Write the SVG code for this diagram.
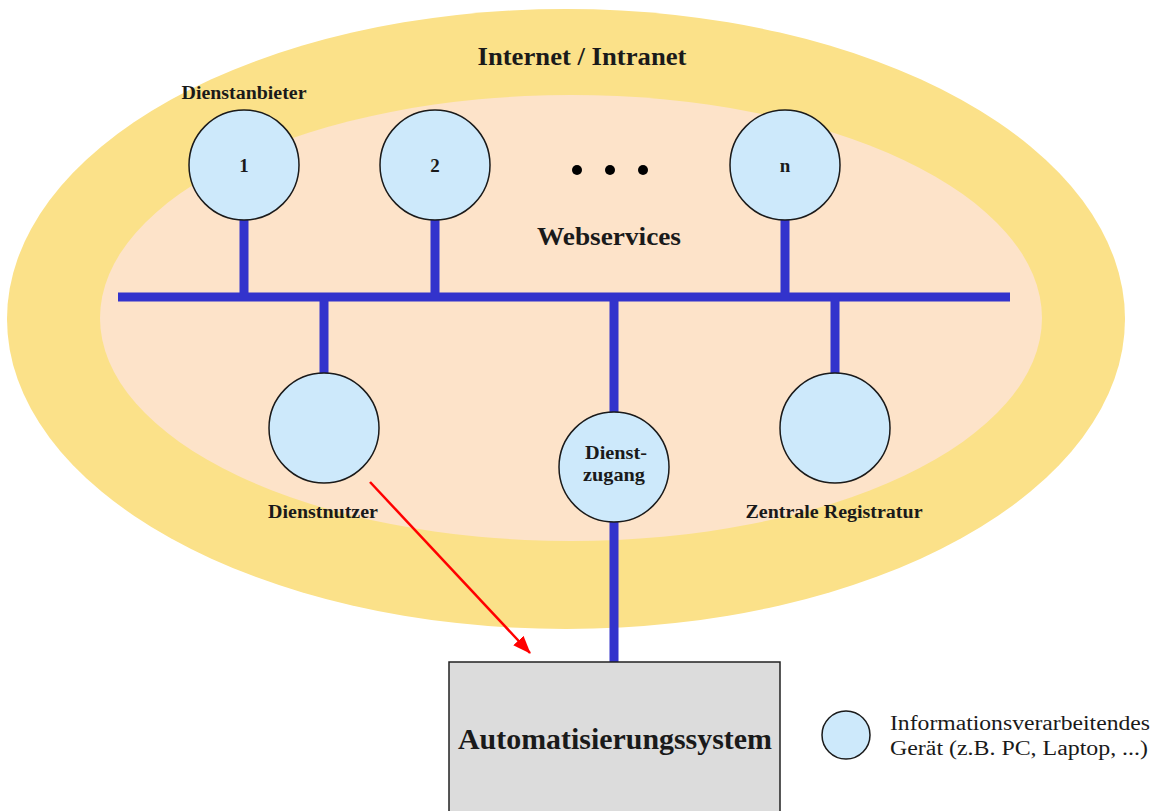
<svg xmlns="http://www.w3.org/2000/svg" width="1154" height="811" viewBox="0 0 1154 811">
<defs>
<style>
.dev{fill:#cde9fb;stroke:#1a1a1a;stroke-width:1.5}
.bus{stroke:#3333cc;stroke-width:9;fill:none}
.lbl{font-family:"Liberation Serif","Times New Roman",serif;font-weight:bold;fill:#1a1a1a;text-anchor:middle}
.leg{font-family:"Liberation Serif","Times New Roman",serif;fill:#1a1a1a;font-size:20px}
</style>
<marker id="ah" markerWidth="18" markerHeight="14" refX="17" refY="7" orient="auto" markerUnits="userSpaceOnUse" viewBox="0 0 18 14">
<path d="M0,0 L18,7 L0,14 Z" fill="#ff0000"/>
</marker>
</defs>
<rect width="1154" height="811" fill="#ffffff"/>
<g id="internet">
<ellipse cx="566" cy="319" rx="559" ry="310" fill="#fbe189"/>
<text class="lbl" x="582" y="65" font-size="25" textLength="209" lengthAdjust="spacingAndGlyphs">Internet / Intranet</text>
</g>
<g id="webservices">
<ellipse cx="571" cy="318" rx="471" ry="223" fill="#fde3c9"/>
<text class="lbl" x="609" y="245" font-size="25" textLength="144" lengthAdjust="spacingAndGlyphs">Webservices</text>
</g>
<g id="connectors">
<line class="bus" x1="118" y1="297" x2="1010" y2="297"/>
<line class="bus" x1="244" y1="218" x2="244" y2="297"/>
<line class="bus" x1="435" y1="218" x2="435" y2="297"/>
<line class="bus" x1="785" y1="218" x2="785" y2="297"/>
<line class="bus" x1="324" y1="297" x2="324" y2="375"/>
<line class="bus" x1="614" y1="297" x2="614" y2="414"/>
<line class="bus" x1="835" y1="297" x2="835" y2="375"/>
<line class="bus" x1="614" y1="520" x2="614" y2="662"/>
<line x1="370" y1="482" x2="530" y2="653" stroke="#ff0000" stroke-width="2.5" marker-end="url(#ah)"/>
</g>
<g id="anbieter1">
<circle class="dev" cx="244" cy="165" r="55"/>
<text class="lbl" x="244" y="172" font-size="19">1</text>
<text class="lbl" x="244" y="99" font-size="18" textLength="125" lengthAdjust="spacingAndGlyphs">Dienstanbieter</text>
</g>
<g id="anbieter2">
<circle class="dev" cx="435" cy="165" r="55"/>
<text class="lbl" x="435" y="172" font-size="19">2</text>
</g>
<g id="dots">
<circle cx="577" cy="170" r="5" fill="#000"/>
<circle cx="610" cy="170" r="5" fill="#000"/>
<circle cx="643" cy="170" r="5" fill="#000"/>
</g>
<g id="anbietern">
<circle class="dev" cx="785" cy="165" r="55"/>
<text class="lbl" x="785" y="172" font-size="19">n</text>
</g>
<g id="dienstnutzer">
<circle class="dev" cx="324" cy="428" r="55"/>
<text class="lbl" x="323" y="518" font-size="18" textLength="110" lengthAdjust="spacingAndGlyphs">Dienstnutzer</text>
</g>
<g id="dienstzugang">
<circle class="dev" cx="614" cy="467" r="55"/>
<text class="lbl" x="616" y="459" font-size="19" textLength="62" lengthAdjust="spacingAndGlyphs">Dienst-</text>
<text class="lbl" x="614" y="481" font-size="19" textLength="62" lengthAdjust="spacingAndGlyphs">zugang</text>
</g>
<g id="registratur">
<circle class="dev" cx="835" cy="428" r="55"/>
<text class="lbl" x="834" y="518" font-size="18" textLength="177" lengthAdjust="spacingAndGlyphs">Zentrale Registratur</text>
</g>
<g id="automatisierungssystem">
<rect x="449" y="662" width="331" height="160" fill="#dcdcdc" stroke="#222" stroke-width="1.5"/>
<text class="lbl" x="615" y="749" font-size="30" textLength="314" lengthAdjust="spacingAndGlyphs">Automatisierungssystem</text>
</g>
<g id="legende">
<circle class="dev" cx="846" cy="735" r="24"/>
<text class="leg" x="890" y="730" textLength="260" lengthAdjust="spacingAndGlyphs">Informationsverarbeitendes</text>
<text class="leg" x="890" y="755" textLength="258" lengthAdjust="spacingAndGlyphs">Gerät (z.B. PC, Laptop, ...)</text>
</g>
</svg>
